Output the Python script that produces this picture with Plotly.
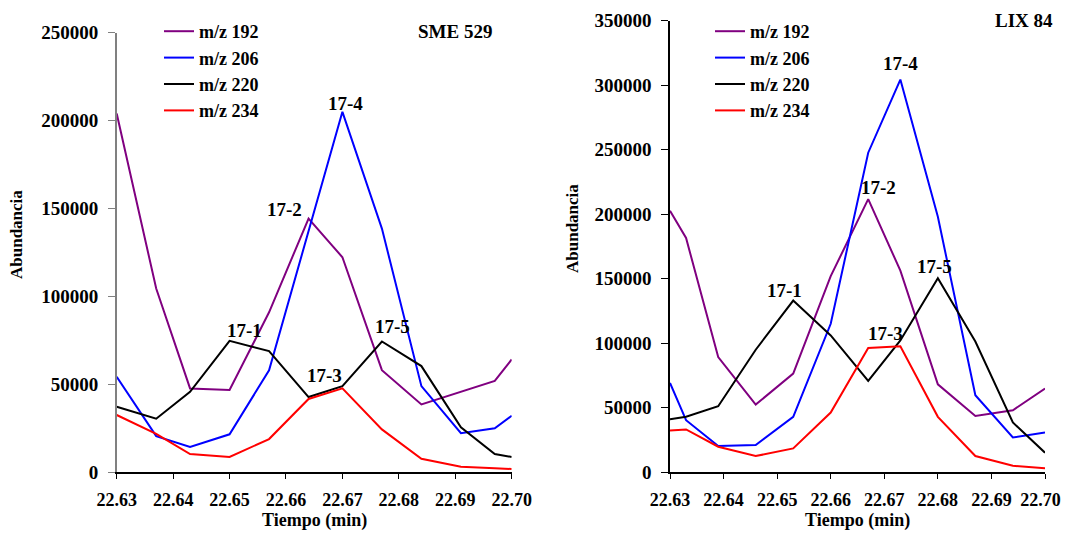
# two chromatogram panels: m/z 192, 206, 220, 234 around 22.63-22.70 min

import plotly.graph_objects as go

# sampling times (min)
t_sme = [22.630, 22.637, 22.643, 22.650, 22.657, 22.664,
         22.670, 22.677, 22.684, 22.691, 22.697, 22.700]
t_lix = [22.630, 22.633, 22.639, 22.646, 22.653, 22.660,
         22.667, 22.673, 22.680, 22.687, 22.694, 22.700]

# SME 529 abundances
sme_192 = [204000, 104500, 47700, 46800, 91000, 144300, 122300, 58100, 38600, 45800, 52000, 64200]
sme_206 = [54300, 20600, 14400, 21600, 58000, 138000, 205000, 138600, 49000, 22200, 25000, 32200]
sme_220 = [37300, 30500, 45800, 74800, 68900, 42800, 49000, 74400, 60400, 25600, 10400, 8700]
sme_234 = [32600, 21800, 10400, 8700, 18900, 41700, 47700, 24400, 7700, 3200, 2300, 1900]

# LIX 84 abundances
lix_192 = [202700, 181600, 89300, 52500, 76500, 152000, 211700, 156300, 68200, 43700, 48100, 64900]
lix_206 = [69200, 40400, 20300, 21100, 43000, 115100, 247700, 304400, 198000, 59700, 27000, 30900]
lix_220 = [41200, 43000, 51200, 95000, 133100, 106100, 70800, 102200, 150400, 101400, 38600, 15200]
lix_234 = [32400, 33200, 19800, 12600, 18500, 46300, 96300, 97600, 43000, 12600, 5100, 3100]

series_names = ['m/z 192', 'm/z 206', 'm/z 220', 'm/z 234']
series_colors = ['#800080', '#0000FF', '#000000', '#FF0000']

# x tick values and labels
x_ticks = [22.63, 22.64, 22.65, 22.66, 22.67, 22.68, 22.69, 22.70]
x_ticklabels = ['22.63', '22.64', '22.65', '22.66', '22.67', '22.68', '22.69', '22.70']
# right panel: last label nudged left so it stays inside the page
x_ticklabels_right = x_ticklabels[:-1] + [x_ticklabels[-1] + '\u00a0\u00a0']

# peak labels (text, time, abundance)
sme_peaks = [('17-1', 22.6527, 80900), ('17-2', 22.6598, 149700), ('17-3', 22.6669, 54800),
             ('17-4', 22.6706, 209500), ('17-5', 22.6789, 82800)]
lix_peaks = [('17-1', 22.6513, 140700), ('17-2', 22.6690, 220600), ('17-3', 22.6702, 107200),
             ('17-4', 22.6731, 317000), ('17-5', 22.6794, 159300)]

# page has an 8px body margin: keep the figure inside the window
OFF = 8
W, H = 1070 - OFF, 538 - 2 * OFF
FONT = 'Liberation Serif'


def px(x):
    return (x - OFF) / W


def py(y):
    return 1 - (y - OFF) / H


def bfont(size):
    return dict(family=FONT, size=size, color='black', weight='bold')


fig = go.Figure()

for name, color, ys in zip(series_names, series_colors, [sme_192, sme_206, sme_220, sme_234]):
    fig.add_trace(go.Scatter(x=t_sme, y=ys, mode='lines', name=name,
                             line=dict(color=color, width=2),
                             xaxis='x', yaxis='y', legend='legend'))

for name, color, ys in zip(series_names, series_colors, [lix_192, lix_206, lix_220, lix_234]):
    fig.add_trace(go.Scatter(x=t_lix, y=ys, mode='lines', name=name,
                             line=dict(color=color, width=2),
                             xaxis='x2', yaxis='y2', legend='legend2'))

xcommon = dict(range=[22.63, 22.70], tickmode='array', tickvals=x_ticks,
               showgrid=False, zeroline=False, showline=True, linecolor='black',
               linewidth=1.5, ticks='outside', ticklen=5, tickcolor='black',
               tickfont=bfont(18), ticklabelstandoff=5, ticklabeloverflow='allow',
               automargin=False)
ycommon = dict(dtick=50000, tickformat='d', showgrid=False, zeroline=False,
               showline=True, linewidth=1.5, ticks='outside', ticklen=7,
               tickfont=bfont(19), ticklabelstandoff=6, automargin=False)

annotations = []
for text, x, y in sme_peaks:
    annotations.append(dict(text=text, x=x, y=y, xref='x', yref='y', showarrow=False,
                            font=bfont(19)))
for text, x, y in lix_peaks:
    annotations.append(dict(text=text, x=x, y=y, xref='x2', yref='y2', showarrow=False,
                            font=bfont(19)))


def paper_text(text, x, y, size, angle=0):
    return dict(text=text, x=px(x), y=py(y), xref='paper', yref='paper', showarrow=False,
                xanchor='center', yanchor='middle', textangle=angle, font=bfont(size))


annotations += [
    paper_text('SME 529', 455, 32, 19),
    paper_text('LIX 84', 1024, 21, 19),
    paper_text('Abundancia', 16, 235, 17, -90),
    paper_text('Abundancia', 572, 229, 17, -90),
    paper_text('Tiempo (min)', 314, 520, 18),
    paper_text('Tiempo (min)', 857, 520, 18),
]

legend_style = dict(font=bfont(18), bgcolor='rgba(0,0,0,0)', borderwidth=0,
                    xanchor='left', yanchor='top', tracegroupgap=0, itemwidth=30)

fig.update_layout(
    width=W, height=H,
    margin=dict(l=0, r=0, t=0, b=0, autoexpand=False),
    paper_bgcolor='white', plot_bgcolor='white',
    showlegend=True,
    xaxis=dict(xcommon, ticktext=x_ticklabels, domain=[px(116.7), px(511.7)], anchor='y'),
    yaxis=dict(ycommon, range=[0, 250000], domain=[py(472.3), py(32.7)], anchor='x',
               linecolor='#808080', tickcolor='#808080'),
    xaxis2=dict(xcommon, ticktext=x_ticklabels_right, domain=[px(670), px(1045)], anchor='y2'),
    yaxis2=dict(ycommon, range=[0, 350000], domain=[py(472.3), py(20.7)], anchor='x2',
                linecolor='black', tickcolor='black'),
    legend=dict(legend_style, x=px(159), y=py(13)),
    legend2=dict(legend_style, x=px(710), y=py(13)),
    annotations=annotations,
)

fig.write_html('out.html')
